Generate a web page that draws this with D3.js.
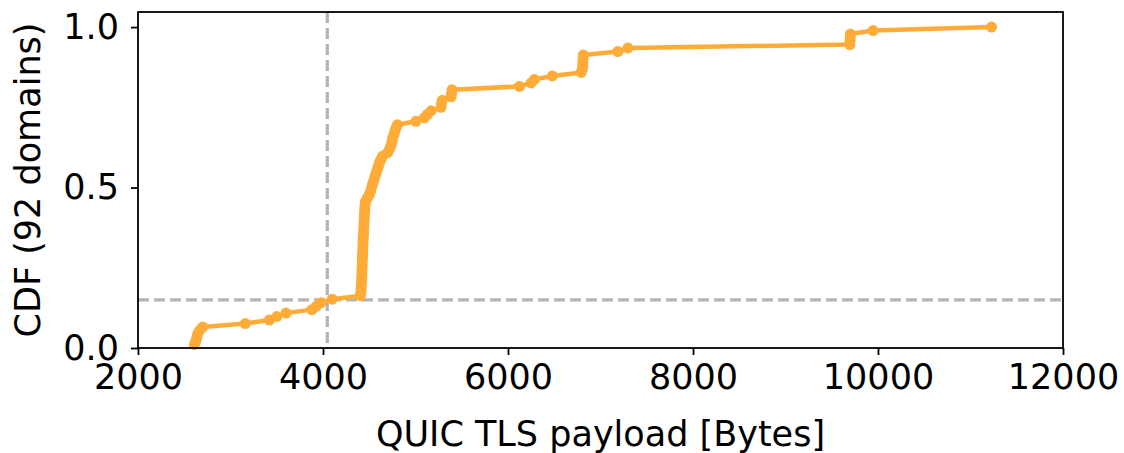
<!DOCTYPE html>
<html>
<head>
<meta charset="utf-8">
<script src="https://cdn.jsdelivr.net/npm/d3@7"></script>
<style>
    body { margin: 0; background: white; }
    text { font-family: "DejaVu Sans", sans-serif; fill: black; }
</style>
</head>
<body>
<svg id="chart" width="1124" height="453"></svg>
<script>
// sorted TLS payload sizes (bytes), one per domain
var payload_sizes = [
    2610, 2625, 2635, 2645, 2665, 2700, 3160, 3420, 3500, 3600,
    3880, 3930, 3980, 4100, 4405, 4410, 4412, 4414, 4416, 4418,
    4420, 4421, 4422, 4424, 4425, 4426, 4428, 4430, 4431, 4432,
    4434, 4436, 4438, 4440, 4442, 4444, 4446, 4448, 4450, 4452,
    4455, 4460, 4480, 4500, 4515, 4525, 4536, 4548, 4560, 4572,
    4585, 4598, 4608, 4625, 4644, 4698, 4720, 4735, 4745, 4752,
    4765, 4775, 4788, 4805, 5005, 5095, 5130, 5168, 5276, 5280,
    5290, 5385, 5390, 5395, 6124, 6250, 6285, 6480, 6790, 6805,
    6808, 6810, 6812, 6815, 7188, 7296, 9695, 9698, 9700, 9702,
    9947, 11228
];
var x_ticks = [2000, 4000, 6000, 8000, 10000, 12000];
var y_ticks = [0.0, 0.5, 1.0];
var threshold_x = 4046;
var threshold_y = 0.15;

const MARGIN = { left: 138, right: 61, top: 12, bottom: 105 };
const WIDTH = 1124 - MARGIN.left - MARGIN.right;
const HEIGHT = 453 - MARGIN.top - MARGIN.bottom;
const FONT = "35px";

var points = payload_sizes.map((d, i) => ({ x: d, y: (i + 1) / payload_sizes.length }));

var svg = d3.select("svg#chart");
var g = svg.append("g").attr("transform", "translate(" + MARGIN.left + "," + MARGIN.top + ")");

var x = d3.scaleLinear().domain([2000, 12000]).range([0, WIDTH]);
var y = d3.scaleLinear().domain([0, 1.047]).range([HEIGHT, 0]);

// threshold lines
g.append("line")
    .attr("x1", x(threshold_x)).attr("x2", x(threshold_x))
    .attr("y1", 0).attr("y2", HEIGHT)
    .style("stroke", "#b4b4b4").style("stroke-width", 3.2)
    .style("stroke-dasharray", "11,5");
g.append("line")
    .attr("x1", 0).attr("x2", WIDTH)
    .attr("y1", y(threshold_y)).attr("y2", y(threshold_y))
    .style("stroke", "#b4b4b4").style("stroke-width", 3.2)
    .style("stroke-dasharray", "11,5");

const ORANGE = "#ffab38";

g.append("path")
    .datum(points)
    .attr("d", d3.line().x(d => x(d.x)).y(d => y(d.y)))
    .attr("fill", "none")
    .style("stroke", ORANGE)
    .style("stroke-width", 4.5)
    .style("stroke-linejoin", "round");

g.selectAll("circle.pt")
    .data(points)
    .join("circle")
    .attr("class", "pt")
    .attr("cx", d => x(d.x))
    .attr("cy", d => y(d.y))
    .attr("r", 5.5)
    .attr("fill", ORANGE);

// axes
var x_axis = g.append("g")
    .attr("transform", "translate(0," + HEIGHT + ")")
    .call(d3.axisBottom(x).tickValues(x_ticks).tickSize(7).tickPadding(9).tickFormat(d3.format("d")));
var y_axis = g.append("g")
    .call(d3.axisLeft(y).tickValues(y_ticks).tickSize(7).tickPadding(12).tickFormat(d3.format(".1f")));

[x_axis, y_axis].forEach(a => {
    a.select(".domain").remove();
    a.selectAll(".tick line").style("stroke", "black").style("stroke-width", 1.8);
    a.selectAll(".tick text").style("font-size", FONT).style("font-family", "DejaVu Sans");
});

// frame
g.append("rect")
    .attr("width", WIDTH)
    .attr("height", HEIGHT)
    .attr("fill", "none")
    .style("stroke", "black")
    .style("stroke-width", 1.8);

svg.append("text")
    .attr("x", MARGIN.left + WIDTH / 2)
    .attr("y", 446)
    .attr("text-anchor", "middle")
    .style("font-size", FONT)
    .text("QUIC TLS payload [Bytes]");

svg.append("text")
    .attr("transform", "translate(40," + (MARGIN.top + HEIGHT / 2) + ") rotate(-90)")
    .attr("text-anchor", "middle")
    .style("font-size", FONT)
    .text("CDF (92 domains)");
</script>
</body>
</html>
